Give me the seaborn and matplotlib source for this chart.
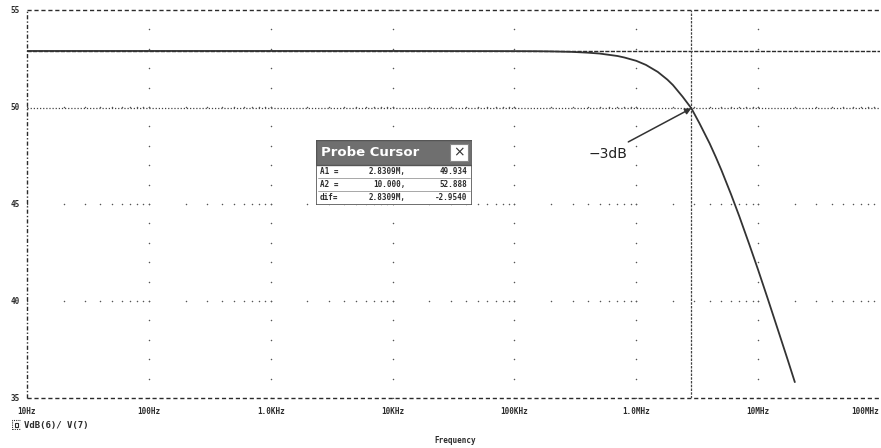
import numpy as np
import pandas as pd
import matplotlib
matplotlib.use("Agg")
import matplotlib.pyplot as plt
import seaborn as sns

# Gain response of VdB(6)/V(7), read point by point
freq_hz = [10, 100, 1e3, 1e4, 1e5, 1.5e5, 2e5, 3e5, 4e5, 5e5, 7e5, 8e5, 1e6,
           1.2e6, 1.5e6, 1.8e6, 2e6, 2.4e6, 2.8309e6, 3.3e6, 4e6, 4.5e6, 5e6,
           6e6, 7e6, 8.5e6, 1e7, 1.2e7, 1.5e7, 1.75e7, 2e7]
gain_db = [52.888, 52.888, 52.888, 52.888, 52.880, 52.876, 52.866, 52.840,
           52.800, 52.755, 52.630, 52.550, 52.380, 52.170, 51.810, 51.410,
           51.130, 50.530, 49.934, 49.160, 48.120, 47.410, 46.740, 45.490,
           44.370, 42.880, 41.600, 40.110, 38.250, 36.960, 35.820]

x_ticks = [10, 100, 1e3, 1e4, 1e5, 1e6, 1e7, 1e8]
x_tick_labels = ["10Hz", "100Hz", "1.0KHz", "10KHz", "100KHz", "1.0MHz", "10MHz", "100MHz"]
y_ticks = [35, 40, 45, 50, 55]
y_tick_labels = ["35", "40", "45", "50", "55"]

# Probe cursor readings
cursor_a1 = (2.8309e6, 49.934)
cursor_a2 = (10.0, 52.888)
cursor_rows = [("A1 =", "2.8309M,", "49.934"),
               ("A2 =", "10.000,", "52.888"),
               ("dif=", "2.8309M,", "-2.9540")]

sns.set_theme(style="white")
plt.rcParams["font.family"] = ["DejaVu Sans"]

fig = plt.figure(figsize=(8.81, 4.48), dpi=100)
ax = fig.add_axes([27 / 881, 1 - 398 / 448, 853 / 881, 388 / 448])

ink = "#2b2b2b"
mono = "DejaVu Sans Mono"

df = pd.DataFrame({"freq": freq_hz, "gain": gain_db})
sns.lineplot(data=df, x="freq", y="gain", ax=ax, color="#333333", lw=1.3, zorder=5)

ax.set_xscale("log")
ax.set_xlim(10, 1e8)
ax.set_ylim(35, 55)

for s in ax.spines.values():
    s.set_visible(False)

# frame: dashed top and bottom, dash-dot left
ax.axhline(55, color=ink, lw=1.0, ls=(0, (3, 2)), zorder=3, clip_on=False)
ax.axhline(35, color=ink, lw=1.0, ls=(0, (3, 2)), zorder=3, clip_on=False)
ax.axvline(10, color=ink, lw=1.0, ls=(0, (3, 1.5, 1, 1.5)), zorder=3, clip_on=False)

# dotted grid: dots at minor positions along each major line
minor_x = [m * 10 ** k for k in range(1, 8) for m in range(1, 10)]
for yv in [40, 45, 50]:
    ax.scatter(minor_x, [yv] * len(minor_x), s=1.2, color="#555555", lw=0, zorder=2)
minor_y = list(range(35, 56))
for xv in x_ticks[1:-1]:
    ax.scatter([xv] * len(minor_y), minor_y, s=1.2, color="#555555", lw=0, zorder=2)

# cursor lines
ax.axhline(cursor_a2[1], color=ink, lw=1.0, ls=(0, (3, 1)), zorder=3)
ax.axhline(cursor_a1[1], color="#444444", lw=0.9, ls=(0, (1, 1.5)), zorder=3)
ax.axvline(cursor_a1[0], color="#444444", lw=0.9, ls=(0, (2, 1)), zorder=3)

# ticks
ax.set_xticks(x_ticks)
ax.set_xticklabels([])
ax.set_yticks(y_ticks)
ax.set_yticklabels([])
ax.minorticks_off()
ax.tick_params(axis="both", length=3, width=0.8, color=ink, direction="inout")
ax.set_xlabel("")
ax.set_ylabel("")

tf = dict(fontsize=5.5, fontweight="bold", family=mono, color=ink)
for xv, lab in zip(x_ticks, x_tick_labels):
    if xv == x_ticks[-1]:
        fig.text(879 / 881, 1 - 411 / 448, lab, ha="right", va="center", **tf)
    else:
        ax.text(xv, -0.035, lab, transform=ax.get_xaxis_transform(), ha="center",
                va="center", clip_on=False, **tf)
for yv, lab in zip(y_ticks, y_tick_labels):
    ax.text(-0.009, yv, lab, transform=ax.get_yaxis_transform(), ha="right", va="center",
            clip_on=False, **tf)

fig.text(455 / 881, 1 - 440 / 448, "Frequency", ha="center", va="center", **tf)
fig.text(24 / 881, 1 - 425 / 448, "VdB(6)/ V(7)", ha="left", va="center",
         fontsize=6.5, fontweight="bold", family=mono, color=ink)
icon = fig.add_axes([12 / 881, 1 - 430 / 448, 9 / 881, 11 / 448])
icon.set_xlim(0, 1); icon.set_ylim(0, 1); icon.axis("off")
icon.add_patch(plt.Rectangle((0.05, 0.05), 0.9, 0.9, fill=False, ec=ink, lw=0.8, ls=(0, (1, 1))))
icon.add_patch(plt.Rectangle((0.3, 0.25), 0.4, 0.4, fill=False, ec=ink, lw=0.8))

# -3dB annotation
ax.annotate("", xy=cursor_a1, xytext=(8.6e5, 48.2),
            arrowprops=dict(arrowstyle="-|>", color="#333333", lw=1.1,
                            mutation_scale=9, shrinkA=0, shrinkB=0), zorder=6)
ax.text(5.9e5, 47.6, "\u22123dB", ha="center", va="center", fontsize=10,
        color="#222222", family="DejaVu Sans")

# probe cursor panel
box = fig.add_axes([316 / 881, 1 - 205 / 448, 156 / 881, 65 / 448])
box.set_xlim(0, 156); box.set_ylim(0, 65); box.axis("off")
box.add_patch(plt.Rectangle((0, 0), 156, 65, fc="white", ec="#555555", lw=1.2))
box.add_patch(plt.Rectangle((0, 40), 156, 25, fc="#6f6f6f", ec="#555555", lw=1.0))
box.text(5, 52.5, "Probe Cursor", color="white", fontsize=9.5, fontweight="bold",
         va="center", ha="left", family="DejaVu Sans")
box.add_patch(plt.Rectangle((134, 44), 18, 17, fc="white", ec="#888888", lw=0.8))
box.text(143, 52.5, "\u00d7", fontsize=10, ha="center", va="center", color="#333333")
for i, (a, b, c) in enumerate(cursor_rows):
    yc = 33.5 - i * 13
    box.text(4, yc, a, fontsize=5.5, fontweight="bold", family=mono, va="center", color=ink)
    box.text(90, yc, b, fontsize=5.5, fontweight="bold", family=mono, va="center",
             ha="right", color=ink)
    box.text(151, yc, c, fontsize=5.5, fontweight="bold", family=mono, va="center",
             ha="right", color=ink)
    if i < 2:
        box.plot([2, 154], [yc - 6.5, yc - 6.5], color="#999999", lw=0.6)

fig.savefig("out.png", dpi=100, facecolor="white")
